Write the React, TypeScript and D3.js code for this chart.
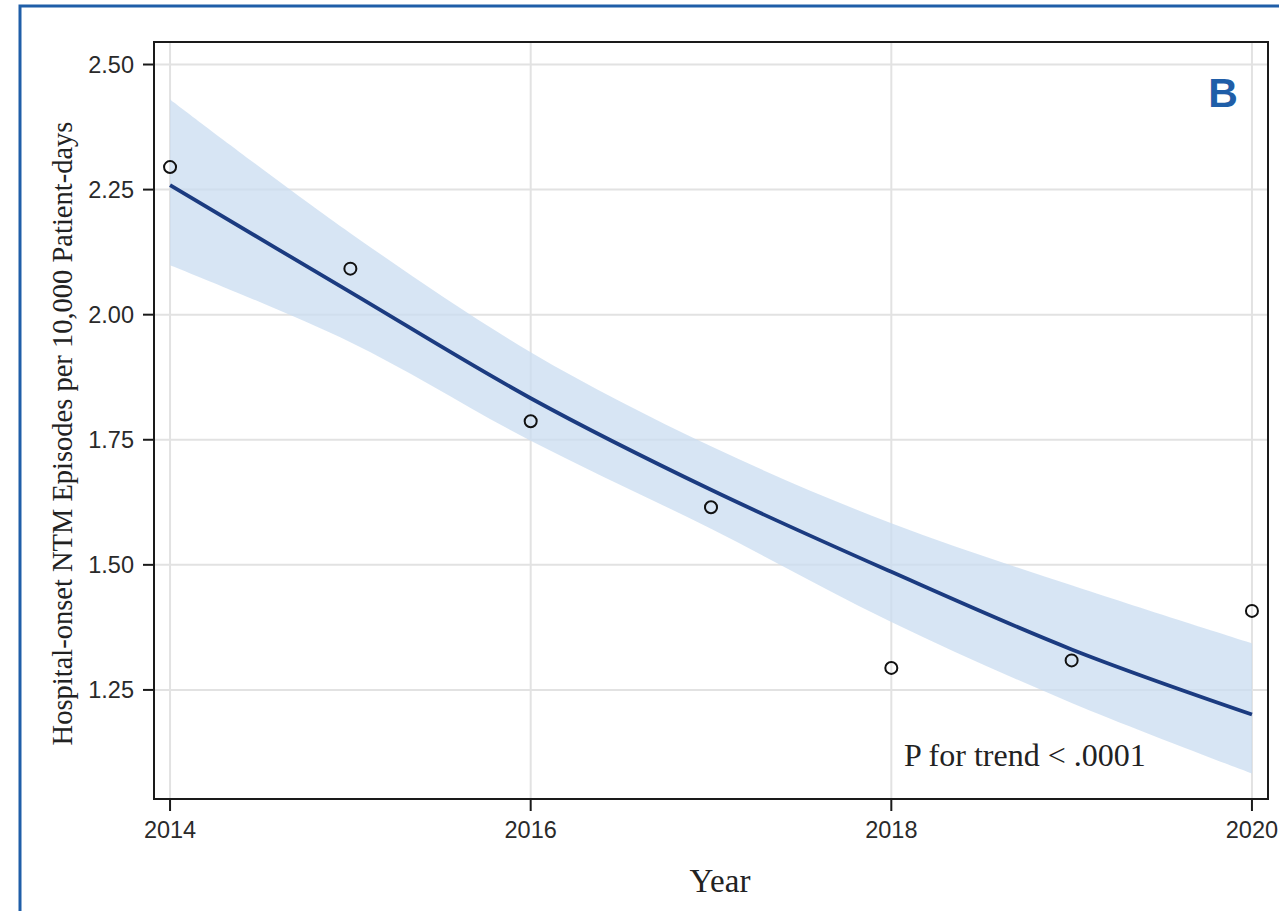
import React, { useEffect, useRef } from 'react';
import * as d3 from 'd3';

const years = [2014, 2015, 2016, 2017, 2018, 2019, 2020];
const observed = [2.295, 2.092, 1.787, 1.615, 1.294, 1.309, 1.408];
const fitted = [2.259, 2.045, 1.833, 1.65, 1.486, 1.331, 1.201];
const upper = [2.43, 2.163, 1.925, 1.737, 1.583, 1.459, 1.343];
const lower = [2.099, 1.945, 1.748, 1.572, 1.386, 1.224, 1.083];

const xTicks = [2014, 2016, 2018, 2020];
const yTicks = [1.25, 1.5, 1.75, 2.0, 2.25, 2.5];

const width = 1279;
const height = 911;

const App = () => {
  const svgRef = useRef<SVGSVGElement>(null);

  useEffect(() => {
    const svg = d3.select(svgRef.current);
    svg.selectAll('*').remove();

    const left = 154, right = 1268, top = 42, bottom = 799;

    const x = d3.scaleLinear().domain([2013.911, 2020.089]).range([left, right]);
    const y = d3.scaleLinear().domain([1.032, 2.545]).range([bottom, top]);

    const rows = years.map((yr, i) => ({ yr, obs: observed[i], fit: fitted[i], hi: upper[i], lo: lower[i] }));

    // outer blue frame
    svg.append('rect')
      .attr('x', 20).attr('y', 6)
      .attr('width', 1290).attr('height', 930)
      .attr('fill', 'white')
      .attr('stroke', '#1f5ea8')
      .attr('stroke-width', 3);

    // grid
    svg.append('g').selectAll('line.gy')
      .data(yTicks).join('line')
      .attr('x1', left).attr('x2', right)
      .attr('y1', d => y(d)).attr('y2', d => y(d))
      .attr('stroke', '#e2e2e2').attr('stroke-width', 2);
    svg.append('g').selectAll('line.gx')
      .data(xTicks).join('line')
      .attr('x1', d => x(d)).attr('x2', d => x(d))
      .attr('y1', top).attr('y2', bottom)
      .attr('stroke', '#e2e2e2').attr('stroke-width', 2);

    // confidence band
    const area = d3.area<any>()
      .x(d => x(d.yr))
      .y0(d => y(d.lo))
      .y1(d => y(d.hi))
      .curve(d3.curveCatmullRom);
    svg.append('path')
      .datum(rows)
      .attr('d', area)
      .attr('fill', '#c9dcf0')
      .attr('fill-opacity', 0.75);

    // fitted line
    const line = d3.line<any>()
      .x(d => x(d.yr))
      .y(d => y(d.fit))
      .curve(d3.curveCatmullRom);
    svg.append('path')
      .datum(rows)
      .attr('d', line)
      .attr('fill', 'none')
      .attr('stroke', '#1b3b80')
      .attr('stroke-width', 3.8);

    // observed points
    svg.append('g').selectAll('circle')
      .data(rows).join('circle')
      .attr('cx', d => x(d.yr))
      .attr('cy', d => y(d.obs))
      .attr('r', 6)
      .attr('fill', 'none')
      .attr('stroke', '#111')
      .attr('stroke-width', 2);

    // plot frame
    svg.append('rect')
      .attr('x', left).attr('y', top)
      .attr('width', right - left).attr('height', bottom - top)
      .attr('fill', 'none')
      .attr('stroke', '#1a1a1a')
      .attr('stroke-width', 2);

    // y axis ticks + labels
    const yAxis = svg.append('g');
    yAxis.selectAll('line')
      .data(yTicks).join('line')
      .attr('x1', left - 11).attr('x2', left)
      .attr('y1', d => y(d)).attr('y2', d => y(d))
      .attr('stroke', '#1a1a1a').attr('stroke-width', 2);
    yAxis.selectAll('text')
      .data(yTicks).join('text')
      .attr('x', left - 20)
      .attr('y', d => y(d) + 8)
      .attr('text-anchor', 'end')
      .style('font-family', '"Liberation Sans", Arial, sans-serif')
      .style('font-size', '23.5px')
      .style('fill', '#2a2a2a')
      .text(d => d3.format('.2f')(d));

    // x axis ticks + labels
    const xAxis = svg.append('g');
    xAxis.selectAll('line')
      .data(xTicks).join('line')
      .attr('x1', d => x(d)).attr('x2', d => x(d))
      .attr('y1', bottom).attr('y2', bottom + 12)
      .attr('stroke', '#1a1a1a').attr('stroke-width', 2);
    xAxis.selectAll('text')
      .data(xTicks).join('text')
      .attr('x', d => x(d))
      .attr('y', bottom + 39)
      .attr('text-anchor', 'middle')
      .style('font-family', '"Liberation Sans", Arial, sans-serif')
      .style('font-size', '23.5px')
      .style('fill', '#2a2a2a')
      .text(d => d);

    // axis titles
    svg.append('text')
      .attr('transform', `translate(72, ${(top + bottom) / 2 + 13}) rotate(-90)`)
      .attr('text-anchor', 'middle')
      .style('font-family', '"Liberation Serif", "Times New Roman", serif')
      .style('font-size', '28.5px')
      .style('fill', '#222')
      .text('Hospital-onset NTM Episodes per 10,000 Patient-days');

    svg.append('text')
      .attr('x', 720)
      .attr('y', 892)
      .attr('text-anchor', 'middle')
      .style('font-family', '"Liberation Serif", "Times New Roman", serif')
      .style('font-size', '33px')
      .style('fill', '#222')
      .text('Year');

    // annotation
    svg.append('text')
      .attr('x', 904)
      .attr('y', 766)
      .style('font-family', '"Liberation Serif", "Times New Roman", serif')
      .style('font-size', '32px')
      .style('fill', '#222')
      .text('P for trend < .0001');

    // panel letter
    svg.append('text')
      .attr('x', 1223)
      .attr('y', 107)
      .attr('text-anchor', 'middle')
      .style('font-family', '"Liberation Sans", Arial, sans-serif')
      .style('font-weight', 'bold')
      .style('font-size', '41px')
      .style('fill', '#1f5ea8')
      .text('B');
  }, []);

  return (
    <svg
      ref={svgRef}
      width={width}
      height={height}
      viewBox={`0 0 ${width} ${height}`}
      style={{ position: 'absolute', left: 0, top: 0, background: 'white' }}
    />
  );
};

export default App;
